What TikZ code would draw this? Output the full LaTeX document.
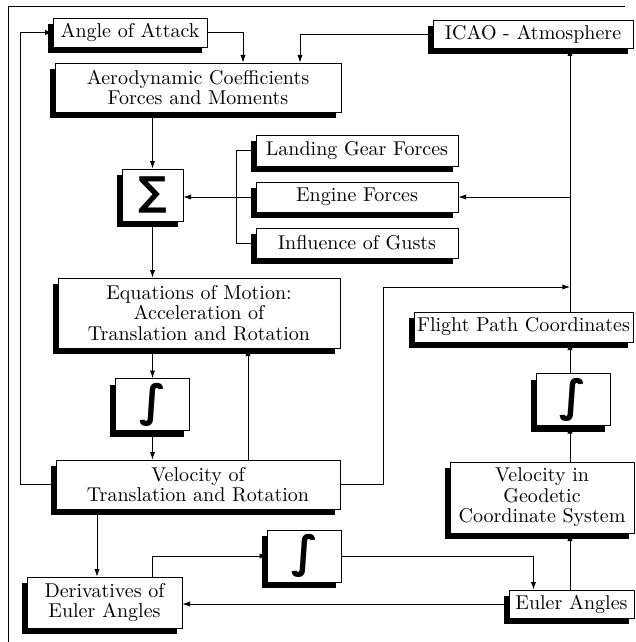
\documentclass[tikz,border=0pt]{standalone}
\usepackage{fontspec}
\newfontfamily\opfont{DejaVu Sans}
\usetikzlibrary{arrows.meta,calc,shadows}

\begin{document}
\begin{tikzpicture}[x=0.5pt, y=-0.5pt, font=\fontsize{10}{10.2}\selectfont,
  box/.style={draw, fill=white, line width=0.4pt, align=center, inner sep=1pt,
    drop shadow={shadow xshift=-2.6pt, shadow yshift=-3pt, fill=black, opacity=1}},
  opbox/.style={box, minimum width=37pt, minimum height=26pt, inner sep=0pt,
    font=\opfont\bfseries\fontsize{22}{22}\selectfont},
  flow/.style={line width=0.4pt, -{Latex[length=3.8pt, width=2.6pt]}}]
\useasboundingbox (0,0) rectangle (636,642);
% frame
\draw[line width=0.4pt] (8,642) -- (8,6) -- (625,6);

% left column
\node[box, minimum width=77pt, minimum height=14.5pt] (aoa) at (130,32.5) {Angle of Attack};
\node[box, minimum width=143pt, minimum height=24.5pt] (aero) at (198,87.5) {Aerodynamic Coefficients\\Forces and Moments};
\node[opbox, minimum width=30.5pt, font=\opfont\bfseries\fontsize{20}{20}\selectfont] (sum) at (152.5,195) {\raisebox{1.5pt}{∑}};
\node[box, minimum width=141pt, minimum height=35pt] (eom) at (199,313) {Equations of Motion:\\Acceleration of\\Translation and Rotation};
\node[opbox] (int1) at (152.5,404.5) {∫};
\node[box, minimum width=142pt, minimum height=24.5pt] (vel) at (198,484.5) {Velocity of\\Translation and Rotation};
\node[opbox] (int2) at (304.5,556) {∫};
\node[box, minimum width=77.5pt, minimum height=25.5pt] (deriv) at (104.5,602.5) {Derivatives of\\Euler Angles};

% forces
\node[box, minimum width=101pt, minimum height=15.5pt] (gear) at (357,150.5) {Landing Gear Forces};
\node[box, minimum width=101pt, minimum height=15pt] (engine) at (357,197) {Engine Forces};
\node[box, minimum width=101pt, minimum height=15pt] (gusts) at (357,243) {Influence of Gusts};

% right column
\node[box, minimum width=100pt, minimum height=14pt] (icao) at (533,34) {ICAO - Atmosphere};
\node[box, minimum width=109.5pt, minimum height=15pt] (path) at (523.5,327) {Flight Path Coordinates};
\node[opbox] (int3) at (573,399.5) {∫};
\node[box, minimum width=92pt, minimum height=35.5pt] (geo) at (542,497.5) {Velocity in\\Geodetic\\Coordinate System};
\node[box, minimum width=62.5pt, minimum height=14pt] (euler) at (571.5,604) {Euler Angles};

\coordinate (rc) at (570,0);
\coordinate (jn) at (570,287);

% connectors
\draw[flow] (vel.west) -- ++(-35,0) |- (aoa.west);
\draw[flow] (aoa.east) -| ($(aero.north)+(45,0)$);
\draw[flow] (icao.west) -| ($(aero.north)+(102,0)$);
\draw[flow] (aero.south -| sum.north) -- (sum.north);
\draw[flow] (sum.south) -- (sum.south |- eom.north);
\draw[flow] (engine.west) -- (engine.west -| sum.east);
\draw[line width=0.4pt] (gear.west) -- ++(-19,0) |- (gusts.west);
\draw[flow] (rc |- path.north) -- (rc |- icao.south);
\draw[flow] (rc |- engine.east) -- (engine.east);
\draw[flow] (vel.east) -- ++(43,0) |- (jn);
\draw[flow] (eom.south -| int1.north) -- (int1.north);
\draw[flow] (int1.south) -- (int1.south |- vel.north);
\draw[flow] ([xshift=25pt]vel.north) -- ([xshift=25pt]vel.north |- eom.south);
\draw[flow] ([xshift=-50.5pt]vel.south) -- ([xshift=-50.5pt]vel.south |- deriv.north);
\draw[flow] ([xshift=24pt]deriv.north) |- (int2.west);
\draw[flow] (int2.east) -| ([xshift=-19pt]euler.north);
\draw[flow] (euler.west) -- (euler.west -| deriv.east);
\draw[flow] (rc |- euler.north) -- (rc |- geo.south);
\draw[flow] (rc |- geo.north) -- (rc |- int3.south);
\draw[flow] (rc |- int3.north) -- (rc |- path.south);
\end{tikzpicture}
\end{document}
